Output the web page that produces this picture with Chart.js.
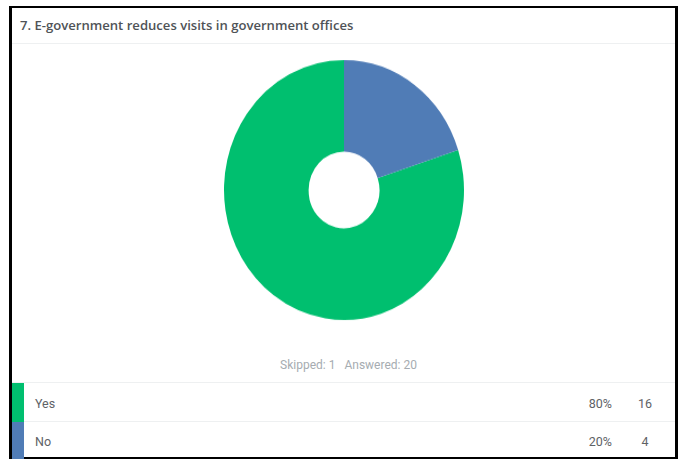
<!DOCTYPE html>
<html>
<head>
<meta charset="utf-8">
<script src="https://cdn.jsdelivr.net/npm/chart.js@4.4.1/dist/chart.umd.min.js"></script>
<style>
    html, body { margin: 0; padding: 0; background: #fff; }
    body { width: 678px; height: 459px; position: relative; overflow: hidden; font-family: Roboto, "Open Sans", sans-serif; }
    .frame {
        position: absolute; left: 9px; top: 6px; width: 669px; height: 453px;
        box-sizing: border-box; border: 2px solid #000; border-left-width: 3px; border-right-width: 3px;
    }
    .title {
        position: absolute; left: 20px; top: 16px; font-family: "Open Sans", sans-serif;
        font-weight: 600; font-size: 13.1px; color: #4f5357; white-space: nowrap;
    }
    .hline { position: absolute; left: 12px; width: 663px; height: 1px; background: #eef0f1; }
    .chart-box { position: absolute; left: 219px; top: 65px; width: 250px; height: 250px; transform: scaleY(1.083); transform-origin: 50% 50%; }
    .summary { position: absolute; left: 17px; width: 663px; top: 358px; text-align: center; font-size: 12px; color: #a6acb1; }
    .summary span { margin: 0 3px; }
    .row { position: absolute; left: 12px; width: 663px; font-size: 12.5px; color: #5e6266; }
    .row .swatch { position: absolute; left: 0; top: -2px; bottom: 0; width: 12px; }
    .row .label { position: absolute; left: 23px; }
    .row .pct { position: absolute; right: 63px; text-align: right; }
    .row .count { position: absolute; left: 620px; width: 26px; text-align: center; }
</style>
</head>
<body>
<div class="frame"></div>
<div class="title">7. E-government reduces visits in government offices</div>
<div class="hline" style="top:43px"></div>
<div class="chart-box"><canvas id="pieChart"></canvas></div>
<div class="summary" id="summary"></div>
<div class="hline" style="top:382px"></div>
<div class="hline" style="top:421px"></div>
<div id="legendRows"></div>

<script>
// --- data ---
const categories = ['Yes', 'No'];
const counts = [16, 4];
const percentLabels = ['80%', '20%'];
const sliceColors = ['#00bf6f', '#507cb6'];
const skipped = 1;
const answered = 20;

document.addEventListener('DOMContentLoaded', () => {
    // Summary line
    document.getElementById('summary').innerHTML =
        '<span>Skipped: ' + skipped + '</span> <span>Answered: ' + answered + '</span>';

    // Legend rows (table under the chart)
    const rowTops = [385, 424];
    const rowHeights = [38, 35];
    const rowsEl = document.getElementById('legendRows');
    categories.forEach((cat, i) => {
        const row = document.createElement('div');
        row.className = 'row';
        row.style.top = rowTops[i] + 'px';
        row.style.height = rowHeights[i] + 'px';
        row.style.lineHeight = rowHeights[i] + 'px';
        row.innerHTML =
            '<div class="swatch" style="background:' + sliceColors[i] + '"></div>' +
            '<div class="label">' + cat + '</div>' +
            '<div class="pct">' + percentLabels[i] + '</div>' +
            '<div class="count">' + counts[i] + '</div>';
        rowsEl.appendChild(row);
    });

    // Doughnut
    new Chart(document.getElementById('pieChart'), {
        type: 'doughnut',
        data: {
            labels: categories,
            datasets: [{
                data: counts,
                backgroundColor: sliceColors,
                borderWidth: 0,
                hoverOffset: 0
            }]
        },
        options: {
            responsive: true,
            maintainAspectRatio: false,
            animation: false,
            rotation: 72,
            cutout: '29.5%',
            layout: { padding: 5 },
            plugins: {
                legend: { display: false },
                tooltip: { enabled: false }
            }
        }
    });
});
</script>
</body>
</html>
